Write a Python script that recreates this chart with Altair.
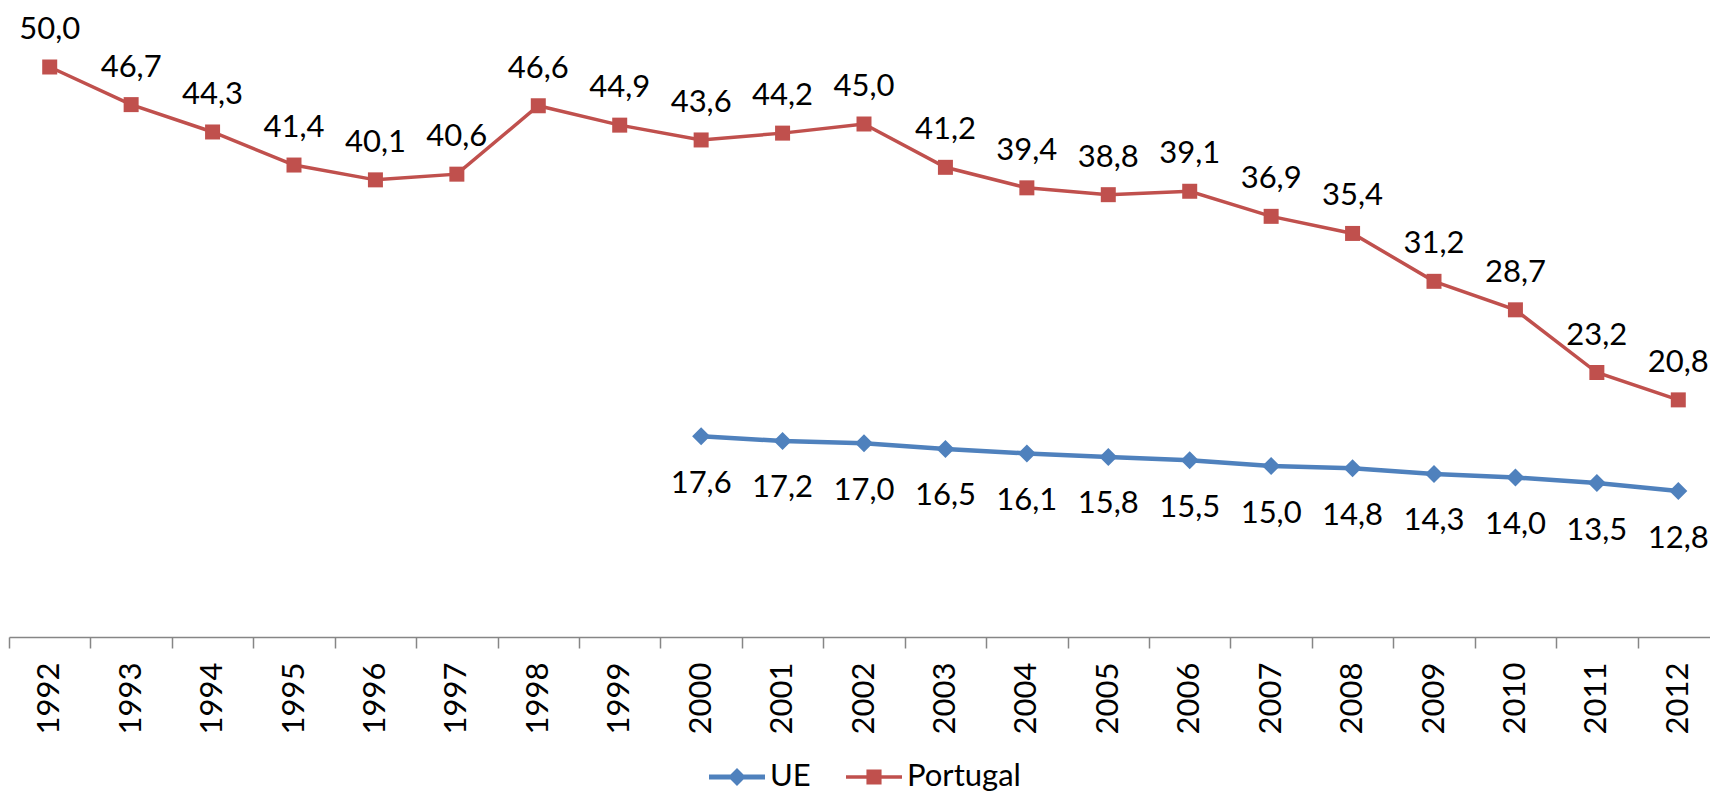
import altair as alt
import pandas as pd

years = [str(y) for y in range(1992, 2013)]
portugal = [50.0, 46.7, 44.3, 41.4, 40.1, 40.6, 46.6, 44.9, 43.6, 44.2, 45.0,
            41.2, 39.4, 38.8, 39.1, 36.9, 35.4, 31.2, 28.7, 23.2, 20.8]
ue_years = years[8:]
ue = [17.6, 17.2, 17.0, 16.5, 16.1, 15.8, 15.5, 15.0, 14.8, 14.3, 14.0, 13.5, 12.8]

RED = "#C0504D"
BLUE = "#4F81BD"
FONT = "Lato"
FS = 31

pt_df = pd.DataFrame({"ano": years, "valor": portugal, "serie": "Portugal"})
ue_df = pd.DataFrame({"ano": ue_years, "valor": ue, "serie": "UE"})

x = alt.X(
    "ano:O",
    sort=years,
    scale=alt.Scale(type="band", domain=years, range=[0, 1710], paddingInner=0, paddingOuter=0),
    axis=alt.Axis(
        title=None, labelAngle=-90, tickBand="extent", labelFont=FONT, labelFontSize=FS,
        labelColor="black", labelPadding=14, tickSize=11, domainColor="#868686",
        tickColor="#868686", domainWidth=1.5, tickWidth=1.5, grid=False,
    ),
)
y = alt.Y("valor:Q", scale=alt.Scale(domain=[0, 55]), axis=None)

ue_path = "M-1,-0.085L1,-0.085L1,0.085L-1,0.085Z M-0.32,0L0,-0.32L0.32,0L0,0.32Z"
pt_path = "M-1,-0.065L1,-0.065L1,0.065L-1,0.065Z M-0.27,-0.27L0.27,-0.27L0.27,0.27L-0.27,0.27Z"


def legend(path, color, lx):
    return alt.Legend(
        title=None, orient="none", legendX=lx, legendY=739, symbolType=path,
        symbolSize=3136, symbolFillColor=color, symbolStrokeWidth=0, symbolOpacity=1,
        labelFont=FONT, labelFontSize=FS, labelColor="black", labelOffset=5, padding=0,
    )


def series(df, color, shape, size, width, dy, lx, path):
    base = alt.Chart(df).encode(x=x, y=y)
    line = base.mark_line(color=color, strokeWidth=width)
    pts = base.mark_point(shape=shape, size=size, filled=True, opacity=1).encode(
        color=alt.Color("serie:N", scale=alt.Scale(domain=[df["serie"][0]], range=[color]),
                        legend=legend(path, color, lx))
    )
    txt = base.mark_text(font=FONT, fontSize=FS, baseline="alphabetic", dy=dy, color="black").transform_calculate(
        lab="replace(format(datum.valor, '.1f'), '.', ',')"
    ).encode(text="lab:N")
    return alt.layer(line, pts, txt)


ue_layer = series(ue_df, BLUE, "diamond", 324, 4.5, 56.5, 700, ue_path)
pt_layer = series(pt_df, RED, "square", 225, 3.5, -28, 837, pt_path)

chart = (
    alt.layer(ue_layer, pt_layer)
    .resolve_scale(color="independent")
    .resolve_legend(color="independent")
    .properties(
        width=1701, height=627,
        padding={"left": 1, "top": 2, "right": 0, "bottom": 157},
        autosize=alt.AutoSizeParams(type="none"),
    )
    .configure_view(stroke=None)
)

chart.save("out.html", embed_options={"renderer": "svg", "actions": False})
